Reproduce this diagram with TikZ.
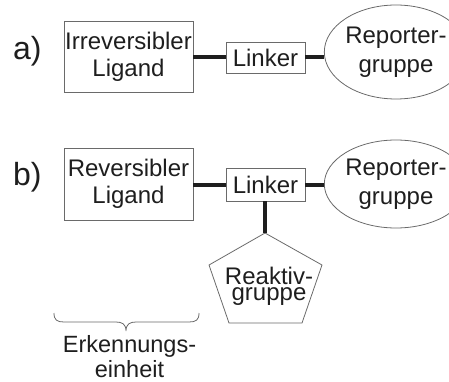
\documentclass[tikz,border=0pt]{standalone}
\usepackage{fontspec}
\setmainfont{Liberation Sans}
\usetikzlibrary{shapes.geometric}
\definecolor{ink}{HTML}{1E1E1E}
\definecolor{frame}{HTML}{6A6A6A}
\tikzset{
  txt/.style={text=ink, font=\fontsize{24}{27}\selectfont, align=center, inner sep=0pt},
  boxnode/.style={txt, draw=frame, line width=0.8pt, rectangle},
  ovalnode/.style={txt, draw=frame, line width=0.8pt, ellipse, font=\fontsize{24}{29}\selectfont},
  bond/.style={draw=ink, line width=4pt},
  thin/.style={draw=frame, line width=0.8pt},
  partlabel/.style={text=ink, font=\fontsize{32}{36}\selectfont, inner sep=0pt, anchor=base west}
}
\begin{document}
\begin{tikzpicture}[x=1pt, y=-1pt]
\useasboundingbox (0,0) rectangle (449,382);

% part a)
\node[partlabel] (la) at (13,60) {a)};
\node[boxnode, minimum width=129pt, minimum height=71pt] (ligA) at (128.5,56.5) {Irreversibler\\Ligand};
\node[boxnode, minimum width=79pt, minimum height=31pt] (linkA) at (265.5,57.5) {Linker};
\node[ovalnode, minimum width=114pt, minimum height=94pt] (repA) at (396,52) {Reporter-\\gruppe};
\draw[bond] (ligA.east |- linkA.west) -- (linkA.west);
\draw[bond] (linkA.east) -- (linkA.east -| repA.west);

% part b)
\node[partlabel] (lb) at (13,185) {b)};
\node[boxnode, minimum width=129pt, minimum height=72pt] (ligB) at (128.5,184) {Reversibler\\Ligand};
\node[boxnode, minimum width=79pt, minimum height=33pt] (linkB) at (265.5,184.5) {Linker};
\node[ovalnode, minimum width=116pt, minimum height=88pt] (repB) at (396,184) {Reporter-\\gruppe};
\draw[bond] (ligB.east |- linkB.west) -- (linkB.west);
\draw[bond] (linkB.east) -- (linkB.east -| repB.west);

% reactive group: flattened pentagon
\coordinate (pTop) at (265,233);
\coordinate (pRight) at (322,265);
\coordinate (pBR) at (302,323);
\coordinate (pBL) at (229,323);
\coordinate (pLeft) at (209,265);
\draw[thin, line join=miter] (pTop) -- (pRight) -- (pBR) -- (pBL) -- (pLeft) -- cycle;
\node[txt, font=\fontsize{24}{16}\selectfont] (react) at (269,286) {Reaktiv-\\gruppe};
\draw[bond] (linkB.south -| pTop) -- (pTop);

% recognition unit brace
\coordinate (brL) at (54,313);
\coordinate (brR) at (199,313);
\coordinate (brTip) at (126,331);
\draw[thin] (brL) .. controls (54,320) and (57,322) .. (64,322) -- (116,322)
  .. controls (122,322) and (126,324) .. (brTip)
  .. controls (126,324) and (130,322) .. (136,322) -- (189,322)
  .. controls (196,322) and (199,320) .. (brR);
\node[txt, font=\fontsize{23.5}{25}\selectfont] (erk) at (129.5,357) {Erkennungs-\\einheit};
\end{tikzpicture}
\end{document}
